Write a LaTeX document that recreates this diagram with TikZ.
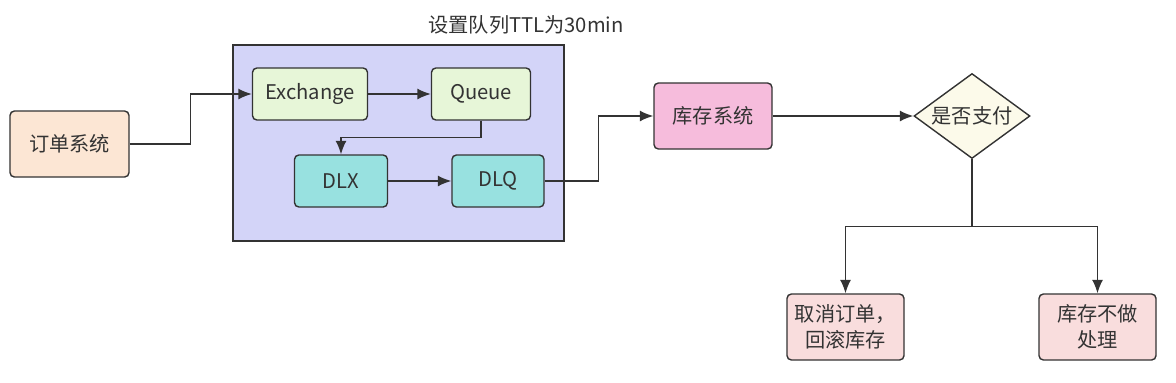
\documentclass[tikz,border=0pt]{standalone}
\usepackage{fontspec}
\usepackage{tikz}
\usetikzlibrary{arrows.meta,positioning,calc,shapes.geometric}
\usepackage{xcolor}
\newfontfamily\cjk{Noto Sans CJK SC}
\definecolor{mqline}{HTML}{333333}
\definecolor{mqpeach}{HTML}{FCE6D4}
\definecolor{mqgreen}{HTML}{E7F6D8}
\definecolor{mqteal}{HTML}{98E1E0}
\definecolor{mqlilac}{HTML}{D3D4F8}
\definecolor{mqpink}{HTML}{F6BCDC}
\definecolor{mqcream}{HTML}{FCFAEA}
\definecolor{mqrose}{HTML}{F9DDDD}
\tikzset{
  mqbox/.style={draw=mqline, line width=0.8pt, rounded corners=2.5pt, inner sep=0pt,
    align=center, text=mqline, font=\cjk\fontsize{11.5}{15}\selectfont},
  mqgroup/.style={draw=mqline, line width=0.8pt, fill=mqlilac, inner sep=0pt},
  mqdecision/.style={draw=mqline, line width=0.8pt, diamond, aspect=1.8, inner sep=0pt,
    fill=mqcream, text=mqline, font=\cjk\fontsize{11.5}{15}\selectfont},
  mqarrow/.style={-{Latex[length=2.7mm, width=2.2mm]}, draw=mqline, line width=0.8pt},
  mqline/.style={draw=mqline, line width=0.8pt},
}

\begin{document}
\begin{tikzpicture}
  \useasboundingbox (0,0) rectangle (23.52,-7.64);
  % TTL group
  \node[mqgroup, minimum width=6.62cm, minimum height=3.92cm] (ttlbox) at (7.97,-2.86) {};
  \node[text=mqline, font=\cjk\fontsize{11.5}{15}\selectfont] (ttltitle) at (10.52,-0.50)
    {设置队列TTL为30min};

  \node[mqbox, fill=mqpeach, minimum width=2.38cm, minimum height=1.32cm] (order) at (1.39,-2.88) {订单系统};
  \node[mqbox, fill=mqgreen, minimum width=2.30cm, minimum height=1.04cm] (exch) at (6.20,-1.88) {Exchange};
  \node[mqbox, fill=mqgreen, minimum width=1.98cm, minimum height=1.04cm] (queue) at (9.62,-1.88) {Queue};
  \node[mqbox, fill=mqteal, minimum width=1.86cm, minimum height=1.04cm] (dlx) at (6.82,-3.62) {DLX};
  \node[mqbox, fill=mqteal, minimum width=1.84cm, minimum height=1.04cm] (dlq) at (9.96,-3.62) {DLQ};
  \node[mqbox, fill=mqpink, minimum width=2.36cm, minimum height=1.32cm] (stock) at (14.26,-2.32) {库存系统};
  \node[mqdecision, minimum width=2.32cm, minimum height=1.70cm] (pay) at (19.44,-2.32) {是否支付};
  \node[mqbox, fill=mqrose, minimum width=2.34cm, minimum height=1.32cm] (cancel) at (16.91,-6.54)
    {取消订单，\\回滚库存};
  \node[mqbox, fill=mqrose, minimum width=2.34cm, minimum height=1.32cm] (keep) at (21.95,-6.54)
    {库存不做\\处理};

  \draw[mqarrow] (order.east) -- ++(1.22,0) |- (exch.west);
  \draw[mqarrow] (exch) -- (queue);
  \draw[mqarrow] (queue.south) -- ++(0,-0.34) -| (dlx.north);
  \draw[mqarrow] (dlx) -- (dlq);
  \draw[mqarrow] (dlq.east) -- ++(1.08,0) |- (stock.west);
  \draw[mqarrow] (stock) -- (pay);
  \draw[mqline] (pay.south) -- ++(0,-1.34) coordinate (split);
  \draw[mqarrow] (split) -| (cancel.north);
  \draw[mqarrow] (split) -| (keep.north);
\end{tikzpicture}
\end{document}
